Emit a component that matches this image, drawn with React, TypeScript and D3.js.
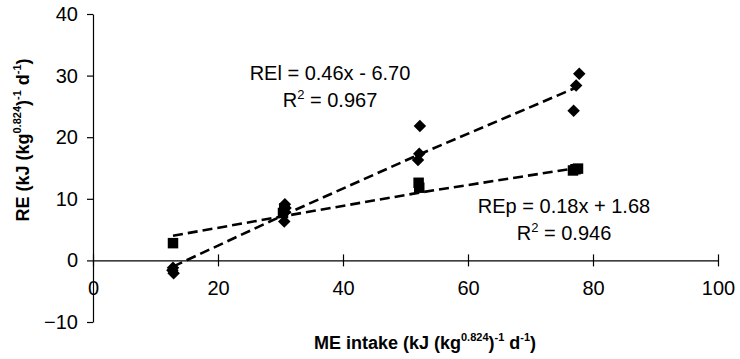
import React, { useRef, useEffect } from 'react';
import * as d3 from 'd3';

const xTicks = [0, 20, 40, 60, 80, 100];
const yTicks = [-10, 0, 10, 20, 30, 40];

// REp (squares)
const protX = [12.8, 30.4, 30.6, 52.1, 52.2, 76.8, 77.2, 77.6];
const protY = [2.8, 7.7, 8.4, 12.6, 11.8, 14.6, 14.8, 14.9];

// REl (diamonds)
const lipidX = [12.8, 12.9, 12.7, 30.6, 30.7, 30.8, 30.7, 52.0, 52.2, 52.3, 76.9, 77.3, 77.8];
const lipidY = [-1.2, -2.1, -1.6, 6.3, 7.8, 8.5, 9.1, 16.3, 17.3, 21.8, 24.3, 28.4, 30.3];

// dashed trend lines
const protTrendX = [12.8, 30.6, 52.2, 77.4];
const protTrendY = [4.0, 7.2, 11.0, 15.0];
const lipidTrendX = [12.8, 30.6, 52.2, 77.4];
const lipidTrendY = [-1.0, 7.4, 17.2, 28.1];

const lipidEq = ['REl = 0.46x - 6.70', '0.967'];
const protEq = ['REp = 0.18x + 1.68', '0.946'];

const W = 740;
const H = 359;
const FONT = 'Liberation Sans, Arial, sans-serif';

const App = () => {
  const svgRef = useRef<SVGSVGElement>(null);

  useEffect(() => {
    const svg = d3.select(svgRef.current);
    svg.selectAll('*').remove();

    const x = d3.scaleLinear().domain([0, 100]).range([93, 718]);
    const y = d3.scaleLinear().domain([-10, 40]).range([322, 14]);

    // y axis
    const yAxis = svg.append('g')
      .attr('transform', `translate(${x(0)},0)`)
      .call(d3.axisLeft(y).tickValues(yTicks).tickSize(6).tickPadding(9).tickSizeOuter(0));
    yAxis.select('.domain').attr('stroke', '#000').attr('stroke-width', 1.2);
    yAxis.selectAll('.tick line').attr('stroke', '#000').attr('stroke-width', 1.2);
    yAxis.selectAll('text')
      .attr('font-family', FONT).attr('font-size', 20).attr('fill', '#000');

    // x axis, crossing ticks
    const xAxis = svg.append('g')
      .attr('transform', `translate(0,${y(0)})`)
      .call(d3.axisBottom(x).tickValues(xTicks).tickSize(6).tickPadding(14).tickSizeOuter(0));
    xAxis.select('.domain').attr('stroke', '#000').attr('stroke-width', 1.2);
    xAxis.selectAll('.tick line').attr('y1', -6).attr('y2', 6)
      .attr('stroke', '#000').attr('stroke-width', 1.2);
    xAxis.selectAll('text')
      .attr('font-family', FONT).attr('font-size', 20).attr('fill', '#000');

    // trend lines
    const line = d3.line<number[]>()
      .x(d => x(d[0]))
      .y(d => y(d[1]));
    const lipidTrend = lipidTrendX.map((v, i) => [v, lipidTrendY[i]]);
    const protTrend = protTrendX.map((v, i) => [v, protTrendY[i]]);
    [lipidTrend, protTrend].forEach(pts => {
      svg.append('path')
        .attr('d', line(pts))
        .attr('fill', 'none')
        .attr('stroke', '#000')
        .attr('stroke-width', 2.6)
        .attr('stroke-dasharray', '10,5');
    });

    // markers
    const square = d3.symbol().type(d3.symbolSquare).size(110);
    const diamond = d3.symbol().type(d3.symbolSquare).size(78);

    svg.append('g').selectAll('path')
      .data(protX.map((v, i) => [v, protY[i]]))
      .enter()
      .append('path')
      .attr('d', square())
      .attr('transform', d => `translate(${x(d[0])},${y(d[1])})`)
      .attr('fill', '#000');

    svg.append('g').selectAll('path')
      .data(lipidX.map((v, i) => [v, lipidY[i]]))
      .enter()
      .append('path')
      .attr('d', diamond())
      .attr('transform', d => `translate(${x(d[0])},${y(d[1])}) rotate(45)`)
      .attr('fill', '#000');

    // equations
    const eq = (cx: number, cy: number, lines: string[]) => {
      const g = svg.append('g')
        .attr('font-family', FONT).attr('font-size', 20).attr('fill', '#000')
        .attr('text-anchor', 'middle');
      g.append('text').attr('x', cx).attr('y', cy).text(lines[0]);
      const t = g.append('text').attr('x', cx).attr('y', cy + 27);
      t.append('tspan').text('R');
      t.append('tspan').attr('font-size', 13).attr('dy', -8).text('2');
      t.append('tspan').attr('dy', 8).text(` = ${lines[1]}`);
    };
    eq(330, 80, lipidEq);
    eq(564, 213, protEq);

    // axis titles
    const title = (t: any, main: string) => {
      t.append('tspan').text(main);
      t.append('tspan').attr('font-size', 11).attr('dy', -8).text('0.824');
      t.append('tspan').attr('dy', 8).text(')');
      t.append('tspan').attr('font-size', 11).attr('dy', -8).text('-1');
      t.append('tspan').attr('dy', 8).text(' d');
      t.append('tspan').attr('font-size', 11).attr('dy', -8).text('-1');
      t.append('tspan').attr('dy', 8).text(')');
    };

    const xt = svg.append('text')
      .attr('x', 425).attr('y', 349)
      .attr('text-anchor', 'middle')
      .attr('font-family', FONT).attr('font-size', 18).attr('font-weight', 'bold');
    title(xt, 'ME intake (kJ (kg');

    const yt = svg.append('text')
      .attr('transform', 'translate(29,140) rotate(-90)')
      .attr('text-anchor', 'middle')
      .attr('font-family', FONT).attr('font-size', 18).attr('font-weight', 'bold');
    title(yt, 'RE (kJ (kg');
  }, []);

  return (
    <svg
      ref={svgRef}
      width={W}
      height={H}
      style={{ position: 'absolute', left: 0, top: 0, background: '#fff' }}
    />
  );
};

export default App;
